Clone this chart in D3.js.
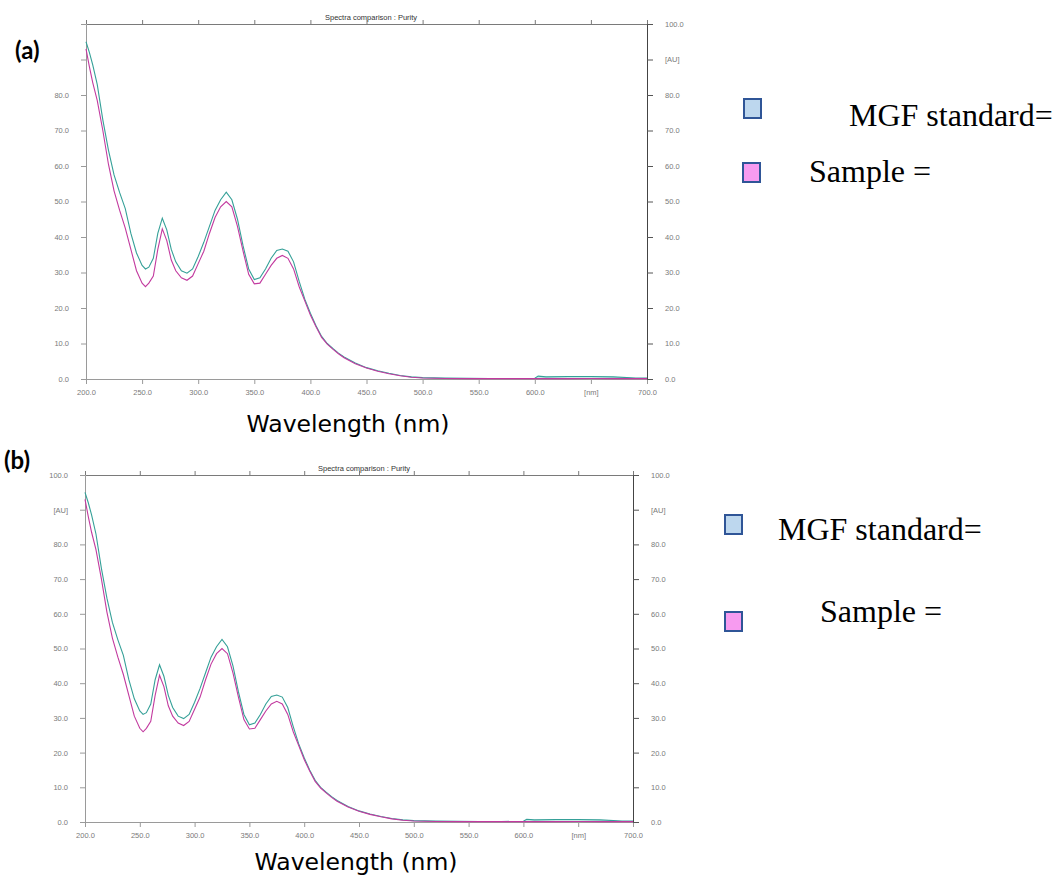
<!DOCTYPE html>
<html>
<head>
<meta charset="utf-8">
<script src="https://cdn.jsdelivr.net/npm/d3@7"></script>
<style>
  body { margin: 0; background: #fff; }
  svg { display: block; }
</style>
</head>
<body>
<div id="d3-container"></div>
<script>
// Spectra (both panels show the same spectra)
const wavelengths = [200, 203, 206, 210, 215, 220, 225, 230, 235, 240,
  245, 250, 253, 256, 260, 264, 268, 272, 276, 280,
  285, 290, 295, 300, 305, 310, 315, 320, 325, 330,
  335, 340, 345, 350, 355, 360, 365, 370, 375, 380,
  385, 390, 395, 400, 405, 410, 415, 420, 425, 430,
  440, 450, 460, 470, 480, 490, 500, 520, 540, 560,
  580, 600, 603, 610, 630, 650, 670, 690, 700];

const mgfStandard = [95, 92, 88.5, 83, 73, 64.5, 57.5, 52.5, 48, 41,
  35.5, 32, 31, 31.5, 34, 41, 45.3, 42, 36.5, 33,
  30.5, 29.8, 31, 34.5, 38.5, 43, 47.5, 50.5, 52.6, 50.5,
  45, 37.5, 31, 28, 28.5, 31, 34, 36.2, 36.6, 36,
  33, 27.5, 22.5, 18.5, 15, 12, 10, 8.6, 7.3, 6.2,
  4.5, 3.2, 2.3, 1.6, 1.0, 0.6, 0.4, 0.25, 0.2, 0.15,
  0.15, 0.2, 0.8, 0.6, 0.7, 0.7, 0.6, 0.3, 0.3];

const sample = [93, 88, 83.5, 78.5, 70, 60.5, 53, 47.5, 42.5, 36.5,
  30.5, 27, 26, 27, 29, 36.5, 42.3, 39, 33.5, 30.5,
  28.5, 27.8, 29, 32.5, 36, 41, 45.5, 48.5, 50, 48.5,
  43, 36, 29.5, 26.8, 27, 29.5, 32, 34, 34.8, 34,
  31, 26, 22, 18, 14.7, 11.7, 9.8, 8.4, 7.1, 6,
  4.3, 3.1, 2.2, 1.5, 0.9, 0.5, 0.3, 0.15, 0.1, 0.1,
  0.1, 0.1, 0.15, 0.1, 0.1, 0.15, 0.1, 0.1, 0.1];

// Tick values and labels
const xTicks = [200, 250, 300, 350, 400, 450, 500, 550, 600, 650, 700];
const xLabels = ["200.0", "250.0", "300.0", "350.0", "400.0", "450.0", "500.0", "550.0", "600.0", "[nm]", "700.0"];
const yTicks = [0, 10, 20, 30, 40, 50, 60, 70, 80, 90, 100];
const yLabels = ["0.0", "10.0", "20.0", "30.0", "40.0", "50.0", "60.0", "70.0", "80.0", "[AU]", "100.0"];
const yLabelsLeftA = ["0.0", "10.0", "20.0", "30.0", "40.0", "50.0", "60.0", "70.0", "80.0", "", ""];

const legendNames = ["MGF standard=", "Sample ="];
const legendFills = ["#bdd7ee", "#f79bf0"];
const lineColors = ["#35a098", "#c23a9f"];

const data = wavelengths.map((w, i) => ({ wl: w, std: mgfStandard[i], smp: sample[i] }));

const svg = d3.select('#d3-container')
  .append('svg')
  .attr('width', 1055)
  .attr('height', 878);

svg.append('rect').attr('width', 1055).attr('height', 878).attr('fill', '#fff');

function drawPanel(p) {
  const x = d3.scaleLinear().domain([200, 700]).range([p.left, p.right]);
  const y = d3.scaleLinear().domain([0, 100]).range([p.bottom, p.top]);

  const g = svg.append('g');

  // axes
  const tickFont = g => g.attr('font-family', 'Liberation Sans, Arial, sans-serif')
    .attr('font-size', '7.5px');

  g.append('g')
    .attr('transform', `translate(0,${p.bottom})`)
    .call(d3.axisBottom(x).tickValues(xTicks).tickFormat((d, i) => xLabels[i]).tickSize(5).tickPadding(6))
    .call(tickFont)
    .call(a => a.select('.domain').attr('stroke', '#9a9a9a'))
    .call(a => a.selectAll('.tick line').attr('stroke', '#9a9a9a'))
    .call(a => a.selectAll('.tick text').attr('fill', '#7a7a7a'));

  g.append('g')
    .attr('transform', `translate(0,${p.top})`)
    .call(d3.axisTop(x).tickValues(xTicks).tickFormat('').tickSize(4).tickSizeOuter(0))
    .call(a => a.select('.domain').attr('stroke', '#7a7a7a'))
    .call(a => a.selectAll('.tick line').attr('stroke', '#7a7a7a'));

  g.append('g')
    .attr('transform', `translate(${p.left},0)`)
    .call(d3.axisLeft(y).tickValues(yTicks).tickFormat((d, i) => p.leftLabels[i]).tickSize(5).tickSizeOuter(0).tickPadding(12))
    .call(tickFont)
    .call(a => a.select('.domain').attr('stroke', '#9a9a9a'))
    .call(a => a.selectAll('.tick line').attr('stroke', '#9a9a9a'))
    .call(a => a.selectAll('.tick text').attr('fill', '#7a7a7a'));

  g.append('g')
    .attr('transform', `translate(${p.right},0)`)
    .call(d3.axisRight(y).tickValues(yTicks).tickFormat((d, i) => yLabels[i]).tickSize(6).tickSizeOuter(0).tickPadding(12))
    .call(tickFont)
    .call(a => a.select('.domain').attr('stroke', '#444'))
    .call(a => a.selectAll('.tick line').attr('stroke', '#555'))
    .call(a => a.selectAll('.tick text').attr('fill', '#7a7a7a'));

  // faint band near the baseline at long wavelengths
  g.append('path')
    .datum(data.filter(d => d.wl >= 600 && d.wl <= 690))
    .attr('fill', '#c6ebe4')
    .attr('d', d3.area().x(d => x(d.wl)).y0(y(0)).y1(d => y(d.std)));

  // spectra
  const line = key => d3.line().x(d => x(d.wl)).y(d => y(d[key]));
  g.append('path').datum(data)
    .attr('fill', 'none').attr('stroke', lineColors[0]).attr('stroke-width', 1.1)
    .attr('d', line('std'));
  g.append('path').datum(data)
    .attr('fill', 'none').attr('stroke', lineColors[1]).attr('stroke-width', 1.1)
    .attr('d', line('smp'));

  // title above plot
  g.append('text')
    .attr('x', p.titleX).attr('y', p.top - 4)
    .attr('font-family', 'Liberation Sans, Arial, sans-serif')
    .attr('font-size', '7.5px').attr('fill', '#333')
    .text('Spectra comparison : Purity');

  // panel letter
  g.append('text')
    .attr('x', p.letterX).attr('y', p.letterY)
    .attr('font-family', 'Lato, Liberation Sans, sans-serif')
    .attr('font-weight', 'bold').attr('font-size', '24px')
    .text(p.letter);

  // x axis title
  g.append('text')
    .attr('x', p.xTitleX).attr('y', p.xTitleY)
    .attr('text-anchor', 'middle')
    .attr('font-family', 'DejaVu Sans, sans-serif')
    .attr('font-size', '23.5px')
    .text('Wavelength (nm)');

  // legend
  p.legend.forEach((l, i) => {
    g.append('rect')
      .attr('x', l.sx).attr('y', l.sy).attr('width', 17).attr('height', 19)
      .attr('fill', legendFills[i]).attr('stroke', '#2f5597').attr('stroke-width', 2);
    g.append('text')
      .attr('x', l.tx).attr('y', l.ty)
      .attr('font-family', 'Liberation Serif, Times New Roman, serif')
      .attr('font-size', '32px')
      .text(legendNames[i]);
  });
}

drawPanel({
  left: 86, right: 647, top: 24, bottom: 379,
  leftLabels: yLabelsLeftA,
  titleX: 325, letter: '(a)', letterX: 15, letterY: 59,
  xTitleX: 348, xTitleY: 432,
  legend: [{ sx: 744, sy: 99, tx: 849, ty: 126 }, { sx: 743, sy: 163, tx: 809, ty: 182 }]
});

drawPanel({
  left: 85, right: 633, top: 475, bottom: 822,
  leftLabels: yLabels,
  titleX: 318, letter: '(b)', letterX: 4, letterY: 469,
  xTitleX: 356, xTitleY: 870,
  legend: [{ sx: 725, sy: 515, tx: 778, ty: 540 }, { sx: 725, sy: 612, tx: 820, ty: 622 }]
});
</script>
</body>
</html>
